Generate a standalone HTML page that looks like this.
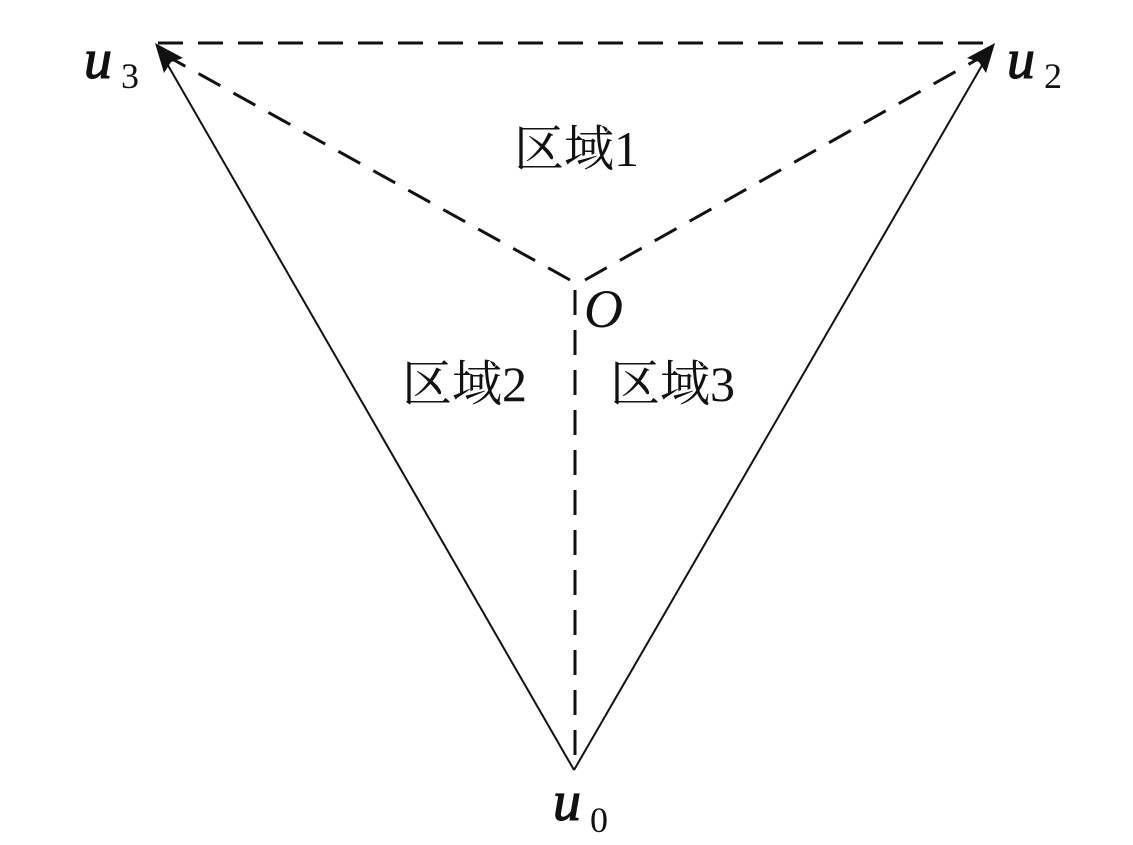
<!DOCTYPE html>
<html><head><meta charset="utf-8"><style>
html,body{margin:0;padding:0;background:#fff;}
svg{display:block}
.cj{font-family:"Liberation Serif","Noto Serif CJK SC",serif;font-size:50px;fill:#111}
.m{font-family:"Liberation Serif",serif;font-style:italic;font-size:56px;fill:#111;stroke:#111;stroke-width:1.2}
.o{font-family:"Liberation Serif",serif;font-style:italic;font-size:54px;fill:#111}
.s{font-family:"Liberation Serif",serif;font-size:36px;fill:#111}
</style></head><body>
<svg width="1133" height="845" viewBox="0 0 1133 845" xmlns="http://www.w3.org/2000/svg">
<g stroke="#111" stroke-width="3" fill="none" stroke-dasharray="25,15">
<line x1="158" y1="43" x2="990" y2="43"/>
<line x1="570" y1="280" x2="165" y2="55"/>
<line x1="585" y1="280" x2="985" y2="55"/>
<line x1="575" y1="290" x2="575" y2="768"/>
</g>
<g stroke="#111" stroke-width="2" fill="none">
<line x1="574" y1="770" x2="162" y2="55"/>
<line x1="574" y1="770" x2="988" y2="55"/>
</g>
<polygon points="155,43 183,58 171,62 164,73" fill="#111"/>
<polygon points="995,43 986,73 979,62 967,58" fill="#111"/>
<text class="m" x="84" y="78">u</text><text class="s" x="121" y="88">3</text>
<text class="m" x="1007" y="78">u</text><text class="s" x="1044" y="88">2</text>
<text class="m" x="553" y="820">u</text><text class="s" x="590" y="832">0</text>
<text class="o" x="584" y="327">O</text>
<text class="cj" x="514" y="166">区域1</text>
<text class="cj" x="402" y="401">区域2</text>
<text class="cj" x="610" y="401">区域3</text>
</svg>
</body></html>
